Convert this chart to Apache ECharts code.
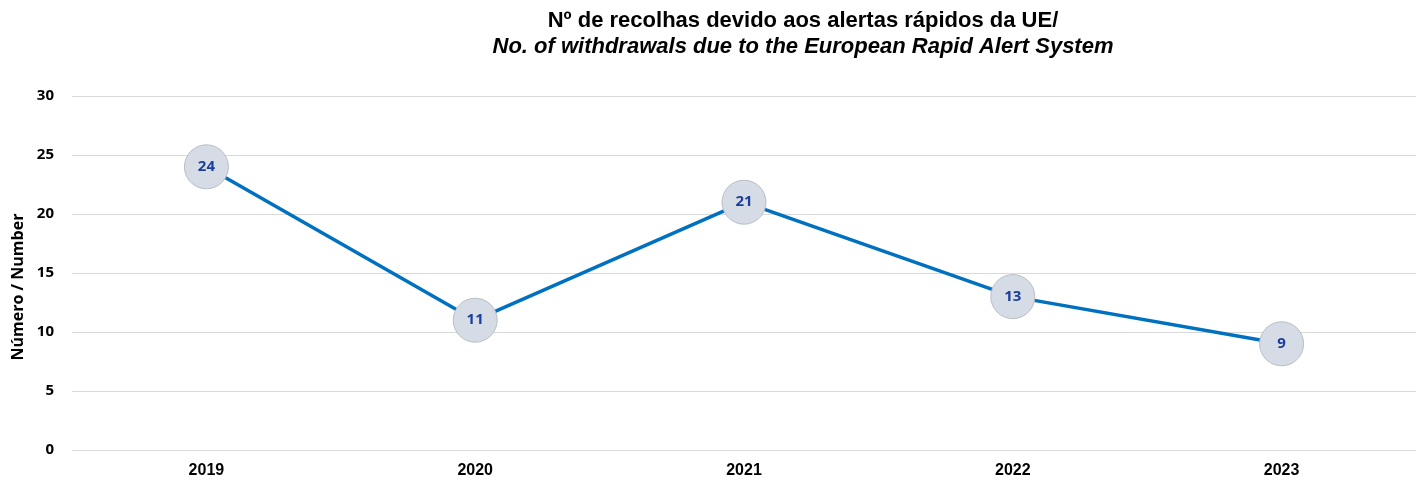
<!DOCTYPE html>
<html>
<head>
<meta charset="utf-8">
<script src="https://cdn.jsdelivr.net/npm/echarts@6/dist/echarts.min.js"></script>
<style>
  html, body { margin: 0; padding: 0; background: #fff; }
  #chart { width: 1423px; height: 483px; }
</style>
</head>
<body>
<div id="chart"></div>
<script>
// data
const years = ['2019', '2020', '2021', '2022', '2023']
const withdrawals = [24, 11, 21, 13, 9]
const yTicks = [0, 5, 10, 15, 20, 25, 30]

let chart = echarts.init(document.getElementById('chart'))
chart.setOption({
    animation: false,
    title: {
        text: '{a|Nº de recolhas devido aos alertas rápidos da UE/}\n{b|No. of withdrawals due to the European Rapid Alert System}',
        left: 798,
        top: 3,
        textAlign: 'center',
        textStyle: {
            rich: {
                a: { fontFamily: 'Liberation Sans', fontWeight: 'bold', fontSize: 22, color: '#000', lineHeight: 26, align: 'center' },
                b: { fontFamily: 'Liberation Sans', fontWeight: 'bold', fontStyle: 'italic', fontSize: 22, color: '#000', lineHeight: 26, align: 'center' }
            }
        }
    },
    grid: {
        left: 72,
        right: 7,
        top: 96,
        bottom: 33
    },
    xAxis: {
        type: 'category',
        data: years,
        axisLine: { show: false },
        axisTick: { show: false },
        axisLabel: {
            margin: 13,
            fontFamily: 'Liberation Sans',
            fontWeight: 'bold',
            fontSize: 16,
            color: '#000'
        }
    },
    yAxis: {
        type: 'value',
        min: yTicks[0],
        max: yTicks[yTicks.length - 1],
        interval: 5,
        name: 'Número / Number',
        nameLocation: 'middle',
        nameGap: 46,
        nameTextStyle: {
            fontFamily: 'Open Sans',
            fontWeight: 'bold',
            fontSize: 16,
            color: '#000',
            padding: [0, 28, 0, 0]
        },
        axisLabel: {
            margin: 18,
            fontFamily: 'Open Sans',
            fontWeight: 'bold',
            fontSize: 15,
            color: '#000'
        },
        splitLine: { lineStyle: { color: '#d9d9d9', width: 1 } }
    },
    series: [
        {
            type: 'line',
            data: withdrawals,
            symbol: 'circle',
            symbolSize: 44,
            lineStyle: { color: '#0070c0', width: 3.5 },
            itemStyle: { color: '#d6dce5', borderColor: '#b8bec6', borderWidth: 1 },
            label: {
                show: true,
                position: 'inside',
                fontFamily: 'Open Sans',
                fontWeight: 'bold',
                fontSize: 15,
                color: '#1a3e9c'
            }
        }
    ]
})
</script>
</body>
</html>
